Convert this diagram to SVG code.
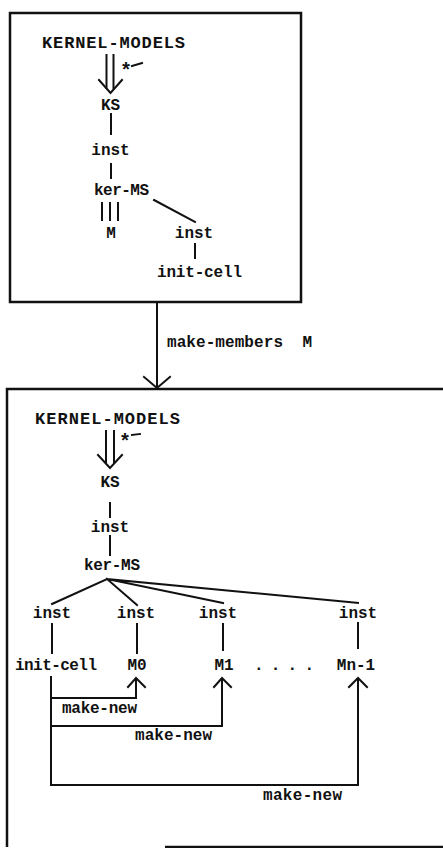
<svg xmlns="http://www.w3.org/2000/svg" width="443" height="848" viewBox="0 0 443 848">
  <style>
    text { font-family: "Liberation Mono", "DejaVu Sans Mono", monospace; font-weight: bold; font-size: 16px; fill: #111; }
    text.big { font-size: 17px; }
    text.star { font-size: 20px; }
    .ln { fill: none; stroke: #111; stroke-width: 2; stroke-linecap: square; }
    .frame { fill: none; stroke: #111; stroke-width: 2.5; }
  </style>
  <rect width="443" height="848" fill="#fff"/>

  <!-- upper panel -->
  <g id="panel-before">
    <rect class="frame" x="10" y="13" width="291" height="289"/>
    <g id="kernel-models-a"><text class="big" x="42" y="48" textLength="143" lengthAdjust="spacing">KERNEL-MODELS</text></g>
    <g id="ks-a"><text x="110.5" y="110" text-anchor="middle">KS</text></g>
    <g id="inst-a"><text x="110.5" y="155" text-anchor="middle">inst</text></g>
    <g id="kerms-a"><text x="121.5" y="195" text-anchor="middle" textLength="55" lengthAdjust="spacing">ker-MS</text></g>
    <g id="m-a"><text x="111" y="238" text-anchor="middle">M</text></g>
    <g id="inst-init-a"><text x="194" y="238" text-anchor="middle">inst</text></g>
    <g id="initcell-a"><text x="199.5" y="277" text-anchor="middle" textLength="85" lengthAdjust="spacing">init-cell</text></g>
    <g id="star-a"><text class="star" x="120" y="77">*</text></g>
  </g>

  <!-- lower panel -->
  <g id="panel-after">
    <path class="frame" d="M443,389 H7 V847"/>
    <path class="frame" d="M165,847 H443"/>
    <g id="kernel-models-b"><text class="big" x="35" y="424" textLength="145" lengthAdjust="spacing">KERNEL-MODELS</text></g>
    <g id="ks-b"><text x="110" y="487" text-anchor="middle">KS</text></g>
    <g id="inst-b"><text x="110" y="532" text-anchor="middle">inst</text></g>
    <g id="kerms-b"><text x="112" y="570" text-anchor="middle" textLength="56" lengthAdjust="spacing">ker-MS</text></g>
    <g id="inst-b1"><text x="52" y="618" text-anchor="middle">inst</text></g>
    <g id="inst-b2"><text x="136" y="618" text-anchor="middle">inst</text></g>
    <g id="inst-b3"><text x="218" y="618" text-anchor="middle">inst</text></g>
    <g id="inst-b4"><text x="358" y="618" text-anchor="middle">inst</text></g>
    <g id="initcell-b"><text x="56" y="670" text-anchor="middle" textLength="82" lengthAdjust="spacing">init-cell</text></g>
    <g id="m0"><text x="137" y="670" text-anchor="middle">M0</text></g>
    <g id="m1"><text x="224" y="670" text-anchor="middle">M1</text></g>
    <g id="dots"><text x="284" y="670" text-anchor="middle" textLength="60" lengthAdjust="spacing">. . . .</text></g>
    <g id="mn1"><text x="356" y="670" text-anchor="middle">Mn-1</text></g>
    <g id="star-b"><text class="star" x="119" y="448">*</text></g>
  </g>

  <g id="connectors">
    <!-- upper panel links -->
    <path class="ln" d="M106.5,55 V88 M113.5,55 V88"/>
    <path class="ln" d="M99,80 L110.5,93 L122,80"/>
    <path class="ln" d="M132,66 L142,63"/>
    <path class="ln" d="M111,114 V134"/>
    <path class="ln" d="M111,164 V178"/>
    <path class="ln" d="M102,203 V220 M110,203 V220 M118,203 V220"/>
    <path class="ln" d="M154,200 L195,222"/>
    <path class="ln" d="M195,244 V258"/>

    <!-- make-members between panels -->
    <path class="ln" d="M157,303 V387"/>
    <path class="ln" d="M144,377 L157,388 L170,377"/>
    <text x="167" y="347" textLength="145" lengthAdjust="spacing" style="white-space: pre">make-members  M</text>

    <!-- lower panel links -->
    <path class="ln" d="M106,431 V463 M114,431 V463"/>
    <path class="ln" d="M98,455 L110,468 L122,455"/>
    <path class="ln" d="M132,435 L140,434"/>
    <path class="ln" d="M110,503 V517"/>
    <path class="ln" d="M110,536 V555"/>
    <path class="ln" d="M107,579 L52,604 M107,579 L137,605 M107,579 L223,603 M107,579 L358,603"/>
    <path class="ln" d="M52,624 V653 M137,624 V653 M223,624 V650 M358,623 V648"/>

    <!-- make-new fan-out -->
    <path class="ln" d="M51,677 V785 H358 V679"/>
    <path class="ln" d="M51,698 H136 V679"/>
    <path class="ln" d="M51,726 H222 V679"/>
    <path class="ln" d="M128,687 L136,678 L145,687"/>
    <path class="ln" d="M214,687 L222,678 L231,687"/>
    <path class="ln" d="M349,687 L358,678 L367,687"/>
    <text x="62" y="713" textLength="75" lengthAdjust="spacing">make-new</text>
    <text x="135" y="740" textLength="77" lengthAdjust="spacing">make-new</text>
    <text x="263" y="800" textLength="79" lengthAdjust="spacing">make-new</text>
  </g>
</svg>
